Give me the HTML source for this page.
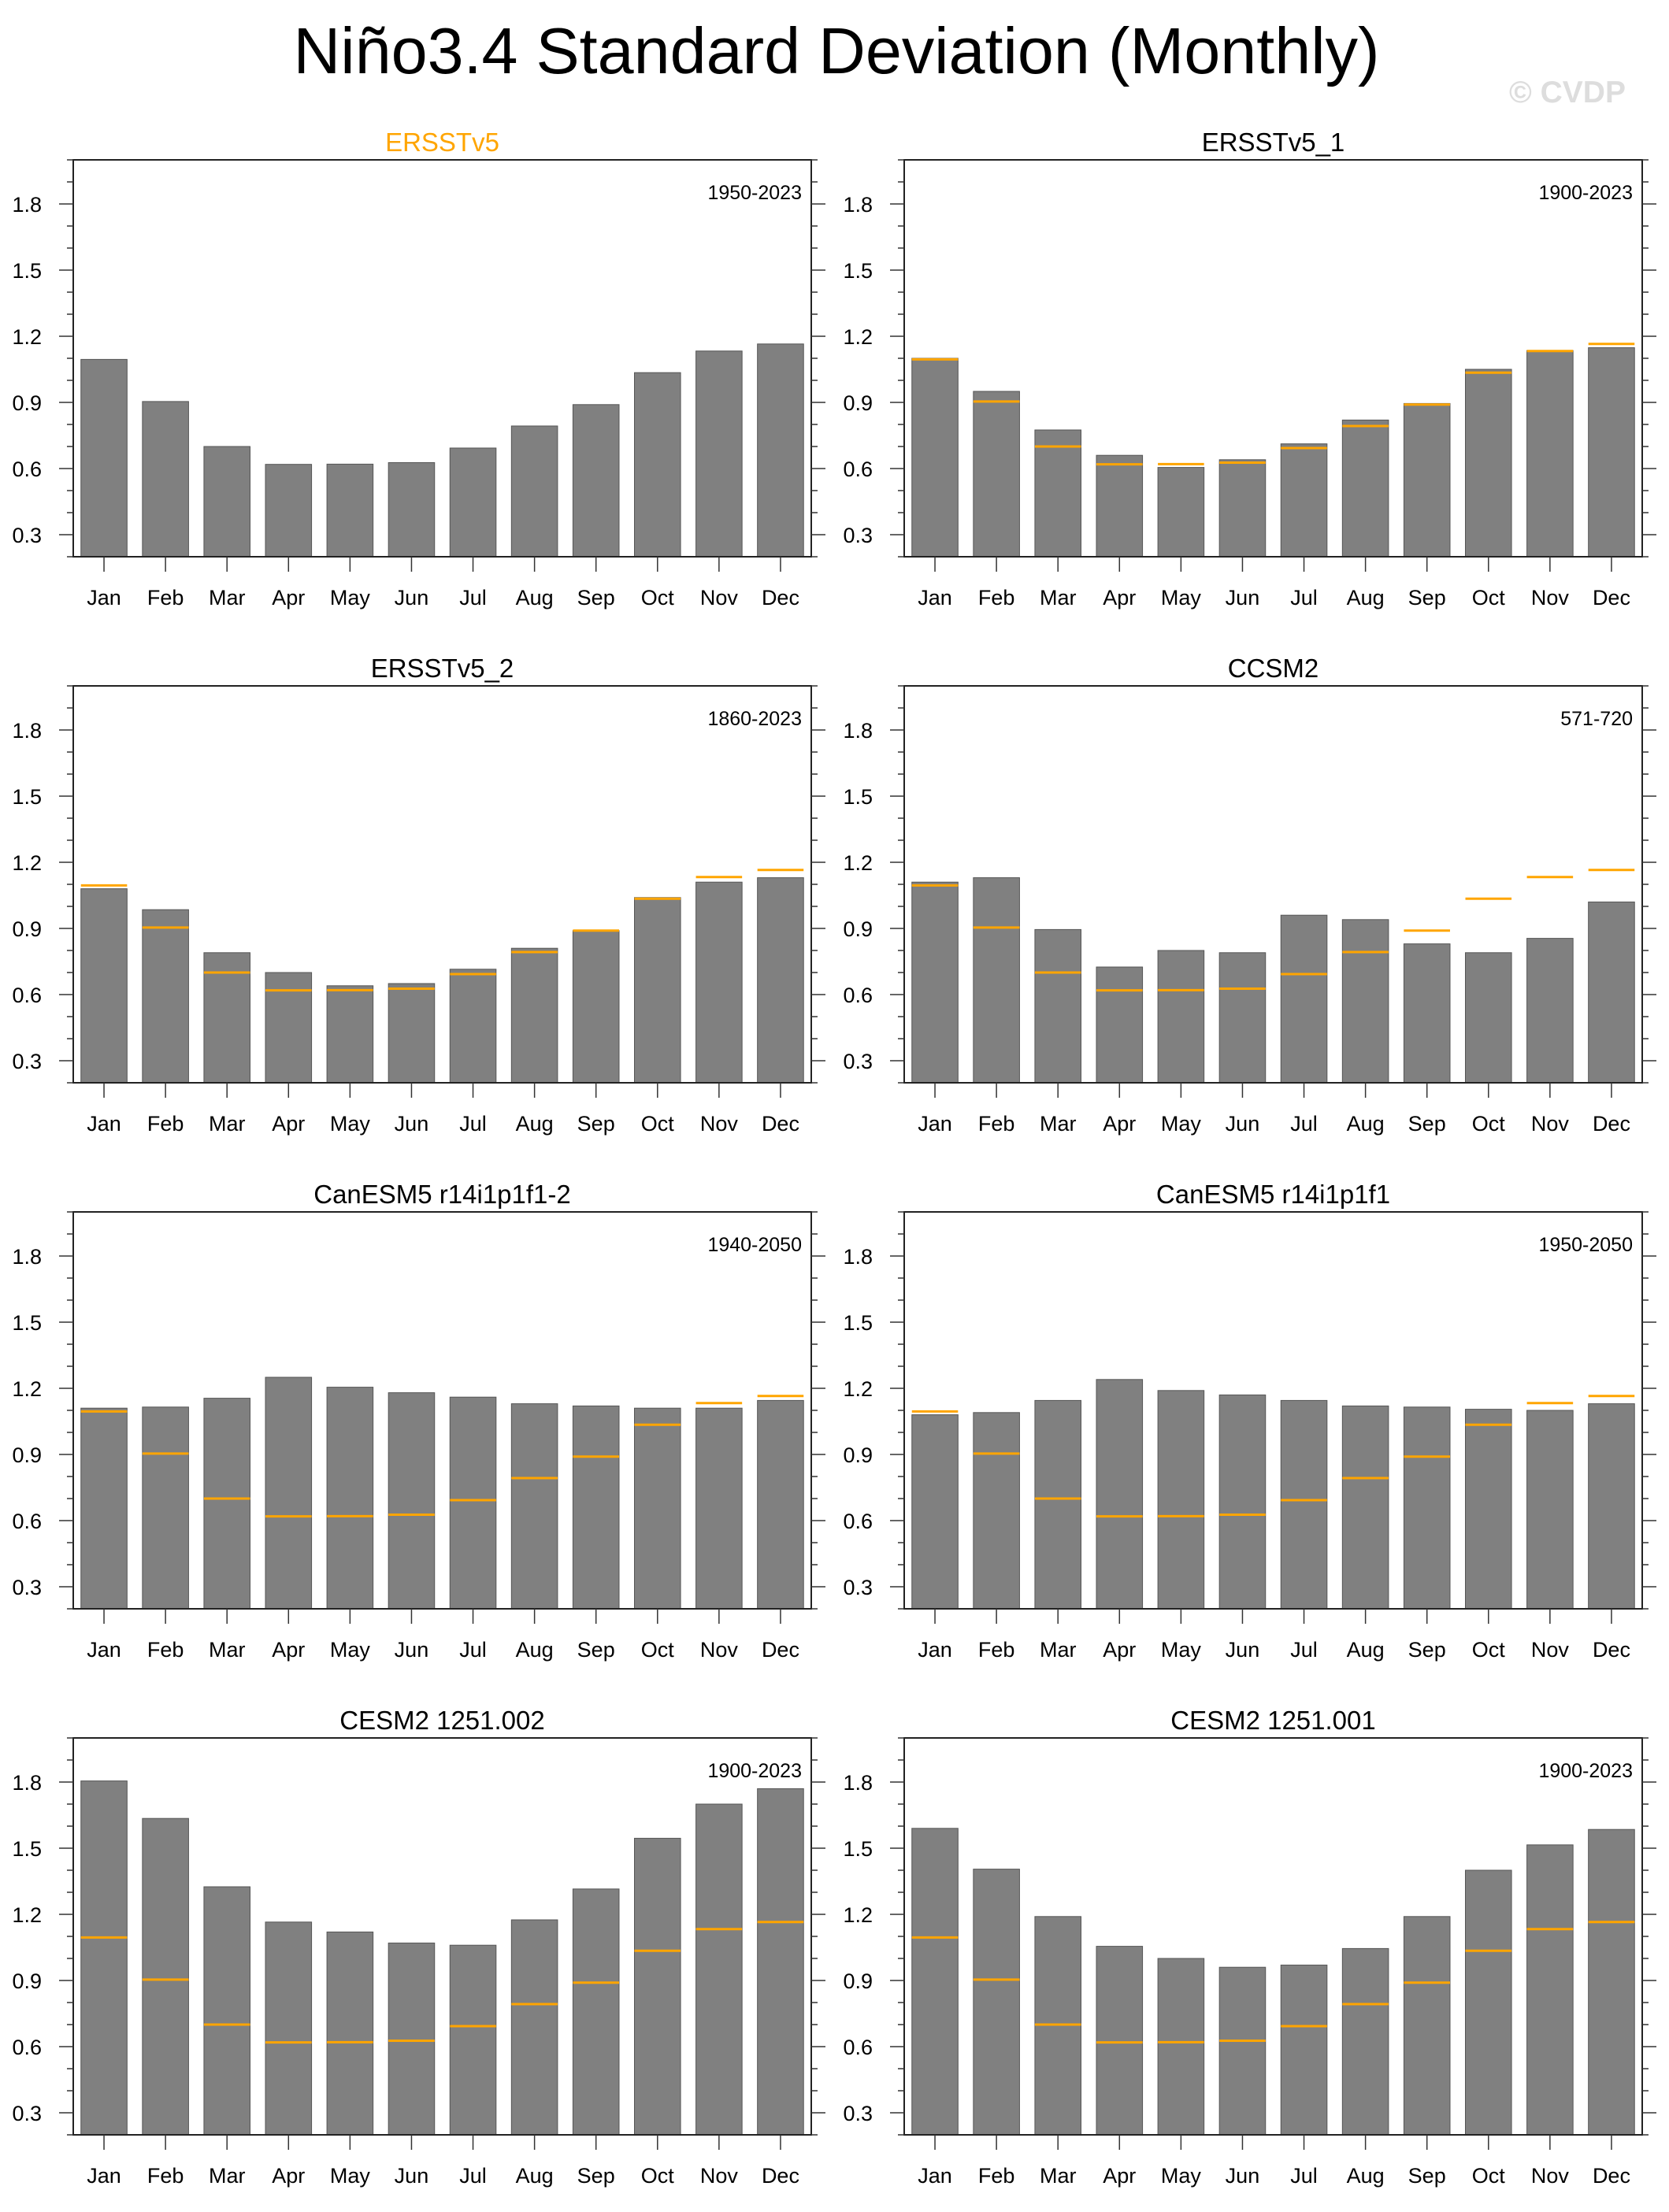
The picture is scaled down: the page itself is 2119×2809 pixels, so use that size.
<!DOCTYPE html>
<html><head><meta charset="utf-8"><style>
html,body{margin:0;padding:0;background:#fff}
svg{display:block;font-family:"Liberation Sans",sans-serif}
</style></head><body>
<svg id="chart" width="2119" height="2809" viewBox="0 0 2119 2809" xmlns="http://www.w3.org/2000/svg">
<text x="1062" y="93" font-size="83" text-anchor="middle" textLength="1379" lengthAdjust="spacingAndGlyphs">Niño3.4 Standard Deviation (Monthly)</text>
<text x="1990" y="130" font-size="39" font-weight="bold" fill="#dddddd" text-anchor="middle">© CVDP</text>
</svg>
<script>
const months = ["Jan","Feb","Mar","Apr","May","Jun","Jul","Aug","Sep","Oct","Nov","Dec"];
const yTicks = [0.3,0.6,0.9,1.2,1.5,1.8];
const yTickLabels = ["0.3","0.6","0.9","1.2","1.5","1.8"];
const panelTitles = ["ERSSTv5","ERSSTv5_1","ERSSTv5_2","CCSM2","CanESM5 r14i1p1f1-2","CanESM5 r14i1p1f1","CESM2 1251.002","CESM2 1251.001"];
const yearRanges = ["1950-2023","1900-2023","1860-2023","571-720","1940-2050","1950-2050","1900-2023","1900-2023"];
const obsValues = [1.095,0.904,0.70,0.619,0.62,0.627,0.693,0.793,0.89,1.035,1.133,1.165];
const ersst1Values = [1.10,0.95,0.775,0.66,0.605,0.64,0.712,0.82,0.895,1.05,1.135,1.148];
const ersst2Values = [1.08,0.985,0.79,0.70,0.64,0.65,0.715,0.81,0.89,1.04,1.11,1.13];
const ccsm2Values = [1.11,1.13,0.895,0.725,0.80,0.79,0.96,0.94,0.83,0.79,0.855,1.02];
const canesm2Values = [1.11,1.115,1.155,1.25,1.205,1.18,1.16,1.13,1.12,1.11,1.11,1.145];
const canesm1Values = [1.08,1.09,1.145,1.24,1.19,1.17,1.145,1.12,1.115,1.105,1.10,1.13];
const cesm002Values = [1.805,1.635,1.325,1.165,1.12,1.07,1.06,1.175,1.315,1.545,1.70,1.77];
const cesm001Values = [1.59,1.405,1.19,1.055,1.0,0.96,0.97,1.045,1.19,1.40,1.515,1.585];
const panelValues = [obsValues,ersst1Values,ersst2Values,ccsm2Values,canesm2Values,canesm1Values,cesm002Values,cesm001Values];

const NS="http://www.w3.org/2000/svg";
const svg=document.getElementById('chart');
const W=937,H=504,YMIN=0.2,YMAX=2.0;
const lefts=[93,1148], tops=[203,871,1539,2207];
function mk(tag,attrs,parent){const e=document.createElementNS(NS,tag);for(const k in attrs)e.setAttribute(k,attrs[k]);(parent||svg).appendChild(e);return e;}

panelValues.forEach((vals,p)=>{
  const L=lefts[p%2], T=tops[Math.floor(p/2)];
  const g=mk('g',{});
  
  
  const yS=v=>T+H-(v-YMIN)/(YMAX-YMIN)*H;
  const slot=W/12;
  const xS=i=>L+slot*(i+0.5);
  vals.forEach((v,i)=>{
    const bw=slot*0.75;
    const r=mk('rect',{x:xS(i)-bw/2,y:yS(v),width:bw,height:T+H-yS(v),fill:'#808080',stroke:'#555','stroke-width':1},g);
    
    
  });
  if(p>0){
    obsValues.forEach((v,i)=>{
      const bw=slot*0.75;
      const l=mk('line',{x1:xS(i)-bw/2,x2:xS(i)+bw/2,y1:yS(v),y2:yS(v),stroke:'#FFA500','stroke-width':3},g);
      
      
    });
  }
  const f=mk('rect',{x:L,y:T,width:W,height:H,fill:'none',stroke:'#222','stroke-width':2},g);
  
  
  for(let k=2;k<=20;k++){
    const v=k/10, y=yS(v), major=(k%3===0);
    const len=major?18:8;
    mk('line',{x1:L-len,x2:L,y1:y,y2:y,stroke:'#333','stroke-width':1.5},g);
    mk('line',{x1:L+W,x2:L+W+len,y1:y,y2:y,stroke:'#333','stroke-width':1.5},g);
  }
  yTicks.forEach((v,i)=>{
    const t=mk('text',{x:L-40,y:yS(v)+10,'font-size':27,'text-anchor':'end'},g);
    t.textContent=yTickLabels[i];
    
    
  });
  months.forEach((m,i)=>{
    mk('line',{x1:xS(i),x2:xS(i),y1:T+H,y2:T+H+19,stroke:'#333','stroke-width':1.5},g);
    const t=mk('text',{x:xS(i),y:T+H+61,'font-size':27,'text-anchor':'middle'},g);
    t.textContent=m;
    
    
  });
  const tt=mk('text',{x:L+W/2,y:T-11,'font-size':33,'text-anchor':'middle',fill:p===0?'#FFA500':'#000'},g);
  tt.textContent=panelTitles[p];
  
  
  const yr=mk('text',{x:L+W-12,y:T+50,'font-size':25,'text-anchor':'end'},g);
  yr.textContent=yearRanges[p];
  
  
});
</script>
</body></html>
